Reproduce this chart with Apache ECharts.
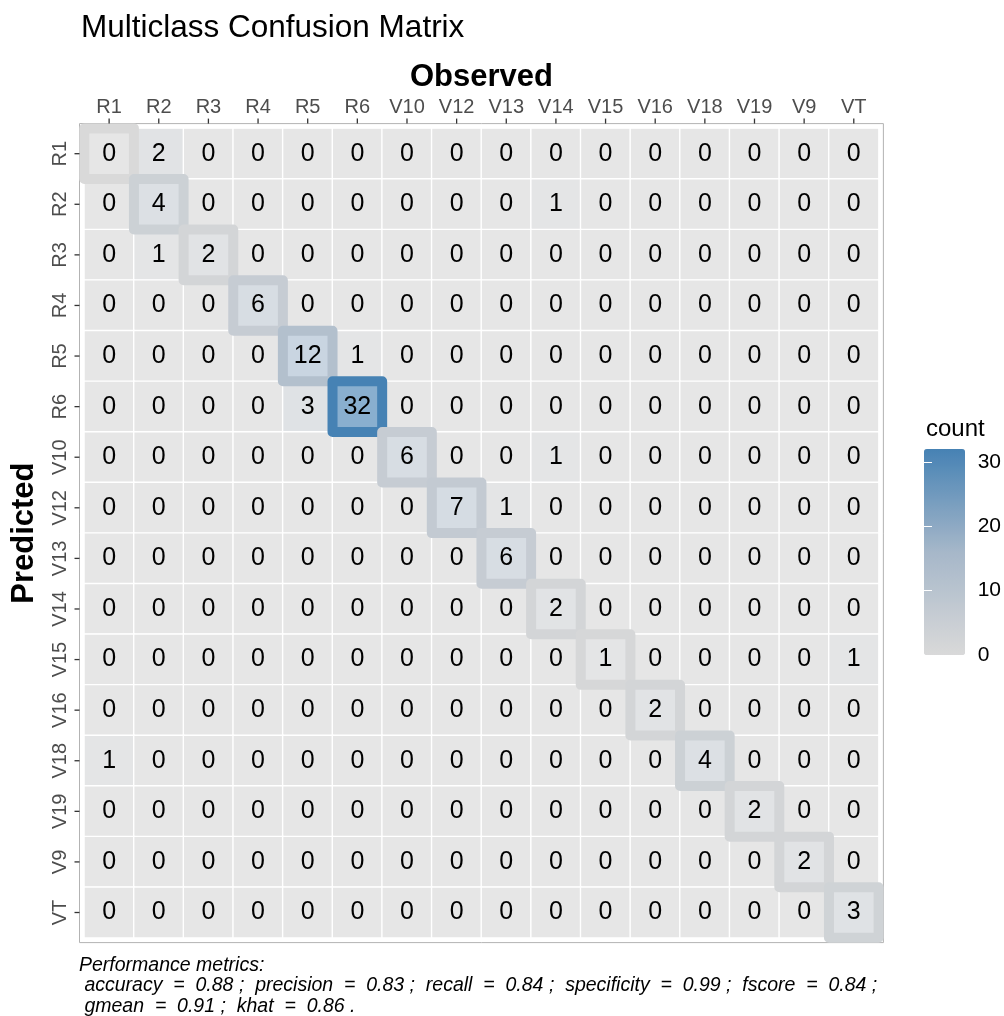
<!DOCTYPE html>
<html>
<head>
<meta charset="utf-8">
<script src="https://cdn.jsdelivr.net/npm/echarts@6/dist/echarts.min.js"></script>
<style>
  html, body { margin: 0; padding: 0; background: #fff; }
  #chart { width: 1004px; height: 1016px; }
</style>
</head>
<body>
<div id="chart"></div>
<script>
const observed = ['R1', 'R2', 'R3', 'R4', 'R5', 'R6', 'V10', 'V12', 'V13', 'V14', 'V15', 'V16', 'V18', 'V19', 'V9', 'VT'];
const predicted = ['R1', 'R2', 'R3', 'R4', 'R5', 'R6', 'V10', 'V12', 'V13', 'V14', 'V15', 'V16', 'V18', 'V19', 'V9', 'VT'];

// one row per predicted class, columns follow `observed`
const counts = [
  [0, 2, 0, 0, 0, 0, 0, 0, 0, 0, 0, 0, 0, 0, 0, 0],
  [0, 4, 0, 0, 0, 0, 0, 0, 0, 1, 0, 0, 0, 0, 0, 0],
  [0, 1, 2, 0, 0, 0, 0, 0, 0, 0, 0, 0, 0, 0, 0, 0],
  [0, 0, 0, 6, 0, 0, 0, 0, 0, 0, 0, 0, 0, 0, 0, 0],
  [0, 0, 0, 0, 12, 1, 0, 0, 0, 0, 0, 0, 0, 0, 0, 0],
  [0, 0, 0, 0, 3, 32, 0, 0, 0, 0, 0, 0, 0, 0, 0, 0],
  [0, 0, 0, 0, 0, 0, 6, 0, 0, 1, 0, 0, 0, 0, 0, 0],
  [0, 0, 0, 0, 0, 0, 0, 7, 1, 0, 0, 0, 0, 0, 0, 0],
  [0, 0, 0, 0, 0, 0, 0, 0, 6, 0, 0, 0, 0, 0, 0, 0],
  [0, 0, 0, 0, 0, 0, 0, 0, 0, 2, 0, 0, 0, 0, 0, 0],
  [0, 0, 0, 0, 0, 0, 0, 0, 0, 0, 1, 0, 0, 0, 0, 1],
  [0, 0, 0, 0, 0, 0, 0, 0, 0, 0, 0, 2, 0, 0, 0, 0],
  [1, 0, 0, 0, 0, 0, 0, 0, 0, 0, 0, 0, 4, 0, 0, 0],
  [0, 0, 0, 0, 0, 0, 0, 0, 0, 0, 0, 0, 0, 2, 0, 0],
  [0, 0, 0, 0, 0, 0, 0, 0, 0, 0, 0, 0, 0, 0, 2, 0],
  [0, 0, 0, 0, 0, 0, 0, 0, 0, 0, 0, 0, 0, 0, 0, 3]
];

const legendTicks = [0, 10, 20, 30];
const metricsText = [
  'Performance metrics:',
  ' accuracy  =  0.88 ;  precision  =  0.83 ;  recall  =  0.84 ;  specificity  =  0.99 ;  fscore  =  0.84 ;',
  ' gmean  =  0.91 ;  khat  =  0.86 .'
];

const FONT = '"Liberation Sans", Arial, Helvetica, sans-serif';

const cells = [];
const diagonal = [];
counts.forEach((row, y) => {
  row.forEach((v, x) => {
    cells.push([x, y, v]);
    if (x === y) diagonal.push([x, y, v]);
  });
});

const chart = echarts.init(document.getElementById('chart'));

const axisGrey = '#b3b3b3';
const tickColor = '#333333';
const PANEL_PAD = 4.8; // gap between tiles and panel border (ggplot expand)
const TICK_LEN = 5;

const option = {
  backgroundColor: '#ffffff',
  animation: false,
  title: [
    {
      text: 'Multiclass Confusion Matrix',
      left: 76, top: 7,
      textStyle: { fontFamily: FONT, fontSize: 31.5, fontWeight: 'normal', color: '#000' }
    },
    {
      text: 'count',
      left: 921, top: 412,
      textStyle: { fontFamily: FONT, fontSize: 24, fontWeight: 'normal', color: '#000' }
    },
    {
      text: metricsText.join('\n'),
      left: 74, top: 950,
      textStyle: { fontFamily: FONT, fontSize: 19.5, fontStyle: 'italic', fontWeight: 'normal', color: '#000', lineHeight: 20.5 }
    }
  ],
  grid: [
    { left: 84.3, top: 128.4, width: 794.3, height: 809.4 },
    { left: 924, top: 449, width: 41, height: 206 }
  ],
  xAxis: [
    {
      type: 'category', data: observed, position: 'top', gridIndex: 0, offset: 4.6,
      axisLine: { show: false },
      axisTick: { show: false },
      axisLabel: { color: '#4d4d4d', fontSize: 20, fontFamily: FONT, margin: 6 },
      name: 'Observed', nameLocation: 'middle', nameGap: 31,
      nameTextStyle: { fontFamily: FONT, fontSize: 31, fontWeight: 'bold', color: '#000' }
    },
    { type: 'value', gridIndex: 1, show: false }
  ],
  yAxis: [
    {
      type: 'category', data: predicted, inverse: true, gridIndex: 0, offset: 4.8,
      axisLine: { show: false },
      axisTick: { show: false },
      axisLabel: { color: '#4d4d4d', fontSize: 20, fontFamily: FONT, rotate: 90, margin: 9 },
      name: 'Predicted', nameLocation: 'middle', nameRotate: 90, nameGap: 40,
      nameTextStyle: { fontFamily: FONT, fontSize: 31, fontWeight: 'bold', color: '#000' }
    },
    {
      type: 'value', gridIndex: 1, min: 0, max: 32, position: 'right', z: 20,
      axisLine: { show: false },
      axisTick: { show: true, inside: true, length: 8, customValues: legendTicks, lineStyle: { color: '#ffffff', width: 1 } },
      axisLabel: { color: '#000', fontSize: 21, fontFamily: FONT, margin: 13, customValues: legendTicks },
      splitLine: { show: false }
    },
    {
      type: 'value', gridIndex: 1, min: 0, max: 32, position: 'left', z: 20,
      axisLine: { show: false },
      axisTick: { show: true, inside: true, length: 8, customValues: legendTicks, lineStyle: { color: '#ffffff', width: 1 } },
      axisLabel: { show: false },
      splitLine: { show: false }
    }
  ],
  visualMap: [
    {
      type: 'continuous', show: false, seriesIndex: 0, dimension: 2,
      min: 0, max: 32,
      inRange: { color: ['#e6e6e6', '#bfcfdf', '#89afcf'] }
    },
    {
      type: 'continuous', show: true, seriesIndex: 1, dimension: 2,
      min: 0, max: 32, calculable: false, realtime: false,
      left: 924, top: 449, itemWidth: 41, itemHeight: 206, padding: 0,
      text: null, showLabel: false,
      inRange: { color: ['#d9d9d9', '#a6b7c9', '#4682b4'] }
    }
  ],
  series: [
    {
      type: 'heatmap',
      xAxisIndex: 0, yAxisIndex: 0,
      data: cells,
      itemStyle: { borderColor: '#ffffff', borderWidth: 1.4 },
      label: { show: true, color: '#000', fontSize: 25, fontFamily: FONT },
      emphasis: { disabled: true }
    },
    {
      type: 'custom',
      xAxisIndex: 0, yAxisIndex: 0,
      data: diagonal,
      z: 5,
      clip: false,
      silent: true,
      renderItem: function (params, api) {
        const p = api.coord([api.value(0), api.value(1)]);
        const s = api.size([1, 1]);
        return {
          type: 'rect',
          shape: { x: p[0] - s[0] / 2, y: p[1] - s[1] / 2, width: s[0], height: s[1] },
          style: { fill: 'none', stroke: api.visual('color'), lineWidth: 10, lineJoin: 'round' }
        };
      }
    }
  ]
};

chart.setOption(option);

// panel frame and axis ticks, placed from the heatmap's own axes
const p0 = chart.convertToPixel({ gridIndex: 0 }, [0, 0]);
const p1 = chart.convertToPixel({ gridIndex: 0 }, [1, 1]);
const cw = Math.abs(p1[0] - p0[0]);
const ch = Math.abs(p1[1] - p0[1]);
const pEnd = chart.convertToPixel({ gridIndex: 0 }, [observed.length - 1, predicted.length - 1]);
const panelLeft = p0[0] - cw / 2 - PANEL_PAD;
const panelTop = p0[1] - ch / 2 - PANEL_PAD;
const panelRight = pEnd[0] + cw / 2 + PANEL_PAD;
const panelBottom = pEnd[1] + ch / 2 + PANEL_PAD;

const graphics = [{
  type: 'rect', silent: true, z: 1,
  shape: { x: panelLeft, y: panelTop, width: panelRight - panelLeft, height: panelBottom - panelTop },
  style: { fill: 'transparent', stroke: axisGrey, lineWidth: 1 }
}];
observed.forEach((_, i) => {
  const x = chart.convertToPixel({ gridIndex: 0 }, [i, 0])[0];
  graphics.push({
    type: 'line', silent: true, z: 100,
    shape: { x1: x, y1: panelTop - TICK_LEN, x2: x, y2: panelTop },
    style: { stroke: tickColor, lineWidth: 1.3 }
  });
});
predicted.forEach((_, i) => {
  const y = chart.convertToPixel({ gridIndex: 0 }, [0, i])[1];
  graphics.push({
    type: 'line', silent: true, z: 100,
    shape: { x1: panelLeft - TICK_LEN, y1: y, x2: panelLeft, y2: y },
    style: { stroke: tickColor, lineWidth: 1.3 }
  });
});
chart.setOption({ graphic: graphics });
</script>
</body>
</html>
